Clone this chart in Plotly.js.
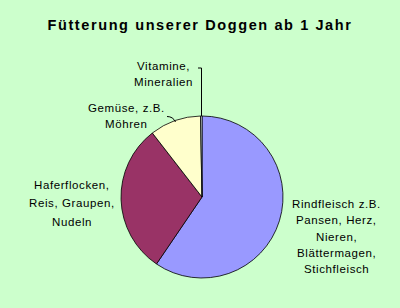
<!DOCTYPE html>
<html><head><meta charset="utf-8">
<script src="https://cdn.plot.ly/plotly-3.0.1.min.js"></script>
<style>
body{margin:0;padding:0;background:#ccffcc;}
#chart{width:400px;height:308px;}
.gtitle{letter-spacing:1.6px;}
.annotation-text{letter-spacing:0.6px;}
</style>
</head><body>
<div id="chart"></div>
<script>
const categories = ["Rindfleisch z.B. Pansen, Herz, Nieren, Blättermagen, Stichfleisch",
                    "Haferflocken, Reis, Graupen, Nudeln",
                    "Gemüse, z.B. Möhren",
                    "Vitamine, Mineralien"];
const values = [59.5, 30.0, 10.2, 0.3];
const colors = ["#9999ff", "#993366", "#ffffcc", "#eeffff"];
const labelLines = [
  ["Rindfleisch z.B.", "Pansen, Herz,", "Nieren,", "Blättermagen,", "Stichfleisch"],
  ["Haferflocken,", "Reis, Graupen,", "Nudeln"],
  ["Gemüse, z.B.", "Möhren"],
  ["Vitamine,", "Mineralien"]
];
const W = 400, H = 308;
const px = (x) => x / W, py = (y) => 1 - y / H;
// label anchor positions (pixels, centre of first line) and line spacing
const labelPos = [[336, 204, 16.3], [72, 185, 18.3], [126, 108, 15.5], [163, 66, 16.5]];

const annotations = [];
labelPos.forEach((p, i) => {
  labelLines[i].forEach((t, j) => {
    annotations.push({
      text: t, showarrow: false, xref: 'paper', yref: 'paper',
      x: px(p[0]), y: py(p[1] + j * p[2]), xanchor: 'center', yanchor: 'middle',
      font: {family: 'Liberation Sans, Arial, sans-serif', size: 11.5, color: '#000'}
    });
  });
});

const cx = 202, cy = 197, r = 81;
const data = [{
  type: 'pie', values: values, labels: categories, sort: false,
  direction: 'clockwise', rotation: 0, textinfo: 'none', hoverinfo: 'label+percent',
  marker: {colors: colors, line: {color: '#000', width: 0.8}},
  domain: {x: [px(cx - r), px(cx + r)], y: [py(cy + r), py(cy - r)]},
  showlegend: false
}];

const layout = {
  width: W, height: H, margin: {l: 0, r: 0, t: 0, b: 0},
  paper_bgcolor: '#ccffcc', plot_bgcolor: '#ccffcc',
  title: {text: '<b>Fütterung unserer Doggen ab 1 Jahr</b>', x: 0.5, xanchor: 'center',
          y: py(25), yanchor: 'middle',
          font: {family: 'Liberation Sans, Arial, sans-serif', size: 14.5, color: '#000'}},
  annotations: annotations,
  shapes: [
    {type: 'path', xref: 'paper', yref: 'paper',
     path: `M ${px(201.5)} ${py(116)} L ${px(201.5)} ${py(68)} L ${px(198)} ${py(68)}`,
     line: {color: '#000', width: 1}},
    {type: 'path', xref: 'paper', yref: 'paper',
     path: `M ${px(167)} ${py(116.5)} Q ${px(173)} ${py(116.5)} ${px(175.5)} ${py(122)}`,
     line: {color: '#000', width: 1}}
  ]
};
Plotly.newPlot('chart', data, layout, {displayModeBar: false, staticPlot: true});
</script>
</body></html>
